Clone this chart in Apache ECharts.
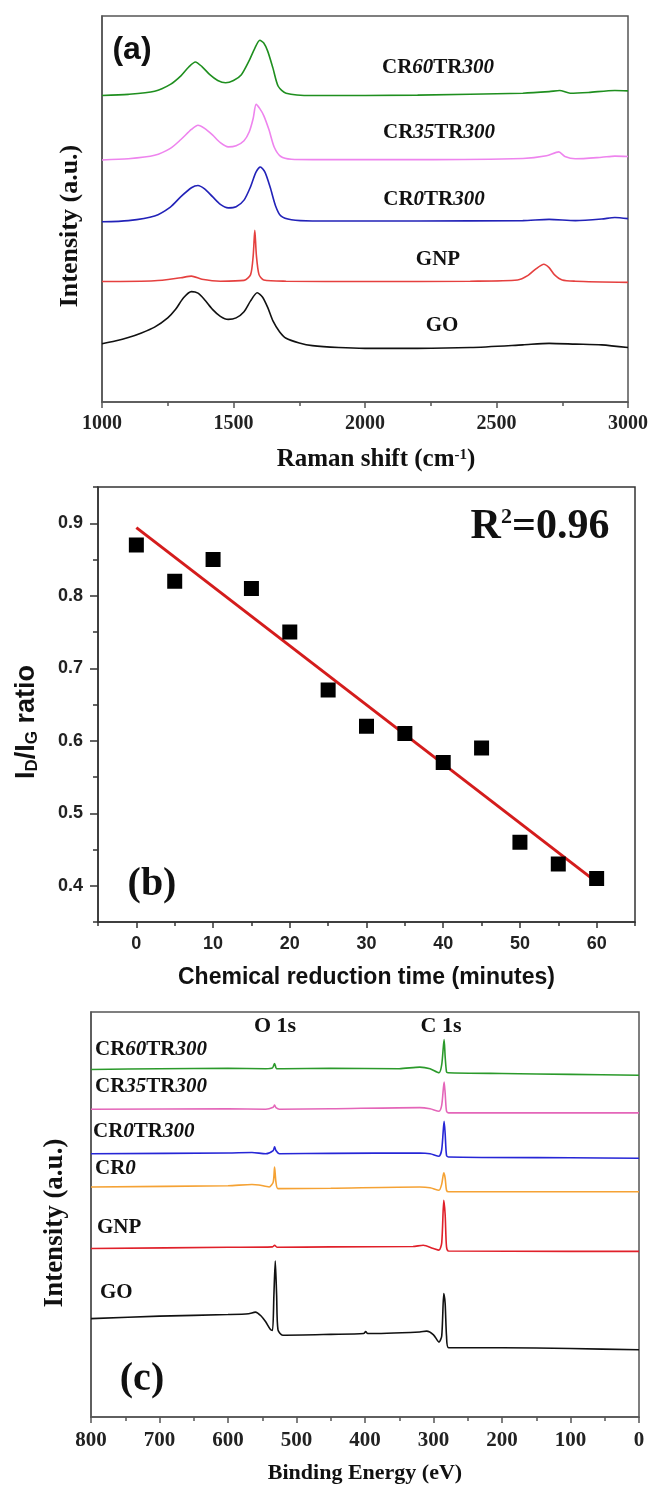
<!DOCTYPE html>
<html>
<head>
<meta charset="utf-8">
<script src="https://cdn.jsdelivr.net/npm/echarts@6/dist/echarts.min.js"></script>
<style>
html, body { margin: 0; padding: 0; background: #fff; }
#main { width: 651px; height: 1486px; }
</style>
</head>
<body>
<div id="main"></div>
<script>
// ---------- (a) Raman spectra: [shift cm-1, intensity a.u.] ----------
var ramanGO = [[1000,15.1],[1050,15.8],[1100,16.7],[1150,17.9],[1200,19.4],[1250,21.8],[1280,24],[1310,27],[1340,28.6],[1365,28.2],[1390,26.5],[1420,24],[1450,22.2],[1480,21.4],[1510,21.8],[1540,23.4],[1565,26.2],[1590,28.3],[1610,27.2],[1630,24.5],[1650,21],[1675,18.2],[1700,16.5],[1750,15.3],[1800,14.6],[1900,14.1],[2000,13.9],[2200,13.9],[2400,14.1],[2600,14.8],[2700,15.2],[2800,15],[2900,14.8],[3000,14.1]];
var ramanGNP = [[1000,31.2],[1200,31.4],[1300,32.2],[1340,32.6],[1380,31.8],[1450,31.3],[1540,31.5],[1565,33],[1575,38],[1581,44.5],[1587,38],[1597,33],[1615,31.6],[1700,31.3],[2000,31.2],[2400,31.3],[2580,31.6],[2620,32.8],[2650,34.5],[2680,35.7],[2700,34.8],[2720,33],[2750,31.6],[2800,31.3],[3000,31]];
var ramanCR0TR300 = [[1000,46.7],[1100,47],[1200,48.2],[1260,50.5],[1300,53.2],[1340,55.5],[1365,56.1],[1390,55.2],[1420,53.2],[1450,51.2],[1480,50.3],[1510,50.6],[1540,52.3],[1565,55.8],[1585,59.5],[1602,60.9],[1620,59.5],[1640,55.5],[1660,50.8],[1680,48.2],[1720,47.2],[1800,46.9],[2200,46.9],[2600,47],[2700,47.3],[2800,47],[2900,47.4],[2950,47.8],[3000,47.5]];
var ramanCR35TR300 = [[1000,62.7],[1100,63],[1200,63.9],[1260,65.7],[1300,68],[1340,70.6],[1365,71.7],[1390,70.9],[1420,69.2],[1450,67.2],[1480,66.1],[1510,66.4],[1540,67.7],[1560,70],[1575,73.5],[1586,77.1],[1600,76],[1615,74.2],[1635,70.5],[1655,66],[1680,63.6],[1720,62.9],[1800,62.8],[2200,62.8],[2600,63.1],[2690,63.8],[2737,64.8],[2760,63.6],[2800,63],[2900,63.4],[2950,63.7],[3000,63.6]];
var ramanCR60TR300 = [[1000,79.4],[1100,79.7],[1200,80.5],[1260,82.3],[1300,84.5],[1330,86.8],[1355,88.1],[1380,86.9],[1410,84.8],[1440,83.3],[1470,82.7],[1500,83.3],[1530,84.8],[1560,88.5],[1580,91.5],[1600,93.7],[1615,93],[1630,90.9],[1650,86.5],[1670,81.8],[1700,80],[1800,79.4],[2200,79.5],[2600,80],[2700,80.4],[2740,80.7],[2780,80],[2850,80.2],[2950,80.7],[3000,80.6]];

// ---------- (b) ID/IG ratio vs chemical reduction time ----------
var reductionTime = [0, 5, 10, 15, 20, 25, 30, 35, 40, 45, 50, 55, 60];
var idigRatio = [0.87, 0.82, 0.85, 0.81, 0.75, 0.67, 0.62, 0.61, 0.57, 0.59, 0.46, 0.43, 0.41];
var fitLine = [[0, 0.894], [60, 0.405]];
var bTicksX = [0, 10, 20, 30, 40, 50, 60];
var bMinorX = [-5, 5, 15, 25, 35, 45, 55, 65];
var bTicksY = [0.4, 0.5, 0.6, 0.7, 0.8, 0.9];
var bMinorY = [0.35, 0.45, 0.55, 0.65, 0.75, 0.85, 0.95];

// ---------- (c) XPS survey: [binding energy eV, intensity a.u.] ----------
var xpsGO = [[800,24.3],[700,24.9],[600,25.3],[570,25.5],[560,25.9],[552,25],[545,23.5],[538,21.6],[535,21.4],[533,30],[531,38.5],[529,30],[527,21.5],[520,20.2],[450,20.4],[402,20.6],[399,21.1],[396,20.6],[320,21],[310,21.2],[300,20.3],[292,18.5],[288,20],[285,30.5],[283,28],[281,20],[278,17.1],[200,17.1],[100,16.9],[0,16.6]];
var xpsGNP = [[800,41.6],[600,41.9],[535,42],[532,42.4],[528,41.9],[450,42],[330,42.1],[315,42.4],[300,41.6],[292,41.2],[288,43],[285,53.5],[283,50],[281,42],[278,41],[100,40.9],[0,40.9]];
var xpsCR0 = [[800,56.8],[600,57.1],[565,57.4],[555,57.3],[540,56.8],[534,58],[532,61.7],[530,58],[527,56.4],[450,56.5],[320,56.8],[305,56.6],[292,56],[288,57.5],[285,60.3],[283,59],[281,56],[278,55.6],[100,55.6],[0,55.6]];
var xpsCR0TR300 = [[800,65],[600,65.2],[565,65.3],[545,65],[534,65.8],[532,66.7],[530,65.8],[525,65],[450,65.1],[320,65.2],[305,65],[292,64.4],[288,66],[284.5,73],[283,70],[281,64.6],[278,64.2],[100,64],[0,63.9]];
var xpsCR35TR300 = [[800,76],[600,76.1],[545,76],[534,76.5],[532,77],[530,76.4],[525,76],[450,76.1],[320,76.4],[305,76.1],[292,75.5],[288,77],[284.5,82.7],[283,80],[281,75.5],[278,75.1],[100,75.1],[0,75.1]];
var xpsCR60TR300 = [[800,85.8],[700,86],[600,86.1],[545,86],[535,86.2],[532,87.3],[529,86],[520,86],[450,86.1],[350,86],[320,86.4],[305,86],[292,85],[288,87],[284.5,93.2],[283,89],[281,85.2],[279,85],[200,84.8],[100,84.6],[0,84.4]];

var SERIF = '"Liberation Serif", "Times New Roman", serif';
var SANS = '"Liberation Sans", Arial, sans-serif';

function spec(data, color, xi, yi) {
	return {
		type: 'line', data: data, xAxisIndex: xi, yAxisIndex: yi,
		showSymbol: false, smooth: 0.25, silent: true,
		lineStyle: { color: color, width: 1.6 }
	};
}

// sample label with italic numbers, e.g. CR{60}TR{300}
function sampleText(parts, x, y, size, align) {
	var txt = '';
	parts.forEach(function(p, i) {
		txt += '{' + (i % 2 ? 'i' : 'n') + '|' + p + '}';
	});
	return {
		type: 'text', x: x, y: y, silent: true,
		style: {
			text: txt, align: align || 'center', verticalAlign: 'middle', fill: '#111',
			rich: {
				n: { fontFamily: SERIF, fontWeight: 'bold', fontSize: size, fill: '#111' },
				i: { fontFamily: SERIF, fontWeight: 'bold', fontStyle: 'italic', fontSize: size, fill: '#111' }
			}
		}
	};
}

function plainText(text, x, y, font, rot) {
	return {
		type: 'text', x: x, y: y, rotation: rot || 0, silent: true,
		style: { text: text, font: font, fill: '#111', align: 'center', verticalAlign: 'middle' }
	};
}

function noComma(v) { return String(v); }

var myChart = echarts.init(document.getElementById('main'), null, { renderer: 'canvas' });

var option = {
	backgroundColor: '#fff',
	animation: false,
	grid: [
		{ left: 102, right: 20, top: 16, bottom: 1084, show: true, borderColor: '#555', borderWidth: 1.5 },
		{ left: 98, right: 16, top: 487, bottom: 564, show: true, borderColor: '#333', borderWidth: 1.5 },
		{ left: 91, right: 12, top: 1012, bottom: 69, show: true, borderColor: '#555', borderWidth: 1.5 }
	],
	xAxis: [
		{
			gridIndex: 0, type: 'value', min: 1000, max: 3000, interval: 500, position: 'bottom',
			axisLine: { onZero: false, lineStyle: { color: '#555', width: 1.5 } },
			axisTick: { show: true, inside: false, length: 6, lineStyle: { color: '#555', width: 1.5 } },
			minorTick: { show: true, splitNumber: 2, length: 4, lineStyle: { color: '#555', width: 1.5 } },
			splitLine: { show: false },
			axisLabel: { margin: 12, fontFamily: SERIF, fontWeight: 'bold', fontSize: 20, color: '#222', formatter: noComma }
		},
		{
			gridIndex: 1, type: 'value', min: -5, max: 65, position: 'bottom',
			axisLine: { onZero: false, lineStyle: { color: '#333', width: 1.5 } },
			axisTick: { show: true, inside: false, length: 6, customValues: bTicksX, lineStyle: { color: '#333', width: 1.5 } },
			splitLine: { show: false },
			axisLabel: { customValues: bTicksX, margin: 13, fontFamily: SANS, fontWeight: 'bold', fontSize: 18, color: '#222' },
			name: 'Chemical reduction time (minutes)', nameLocation: 'middle', nameGap: 44,
			nameTextStyle: { fontFamily: SANS, fontWeight: 'bold', fontSize: 23, color: '#111' }
		},
		{
			gridIndex: 1, type: 'value', min: -5, max: 65, position: 'bottom', offset: 0,
			axisLine: { show: false, onZero: false },
			axisTick: { show: true, inside: false, length: 4, customValues: bMinorX, lineStyle: { color: '#333', width: 1.5 } },
			splitLine: { show: false },
			axisLabel: { show: false }
		},
		{
			gridIndex: 2, type: 'value', min: 0, max: 800, interval: 100, inverse: true, position: 'bottom',
			axisLine: { onZero: false, lineStyle: { color: '#555', width: 1.5 } },
			axisTick: { show: true, inside: false, length: 6, lineStyle: { color: '#555', width: 1.5 } },
			minorTick: { show: true, splitNumber: 2, length: 4, lineStyle: { color: '#555', width: 1.5 } },
			splitLine: { show: false },
			axisLabel: { margin: 13, fontFamily: SERIF, fontWeight: 'bold', fontSize: 21, color: '#222' },
			name: 'Binding Energy (eV)', nameLocation: 'middle', nameGap: 45,
			nameTextStyle: { fontFamily: SERIF, fontWeight: 'bold', fontSize: 22, color: '#111' }
		}
	],
	yAxis: [
		{
			gridIndex: 0, type: 'value', min: 0, max: 100, position: 'left',
			axisLine: { show: true, onZero: false, lineStyle: { color: '#555', width: 1.5 } },
			axisTick: { show: false }, axisLabel: { show: false }, splitLine: { show: false }
		},
		{
			gridIndex: 1, type: 'value', min: 0.35, max: 0.95, position: 'left',
			axisLine: { show: true, onZero: false, lineStyle: { color: '#333', width: 1.5 } },
			axisTick: { show: true, inside: false, length: 8, customValues: bTicksY, lineStyle: { color: '#333', width: 1.5 } },
			splitLine: { show: false },
			axisLabel: {
				customValues: bTicksY, margin: 15, fontFamily: SANS, fontWeight: 'bold', fontSize: 18, color: '#222',
				formatter: function(v) { return v.toFixed(1); }
			}
		},
		{
			gridIndex: 1, type: 'value', min: 0.35, max: 0.95, position: 'left', offset: 0,
			axisLine: { show: false, onZero: false },
			axisTick: { show: true, inside: false, length: 5, customValues: bMinorY, lineStyle: { color: '#333', width: 1.5 } },
			splitLine: { show: false },
			axisLabel: { show: false }
		},
		{
			gridIndex: 2, type: 'value', min: 0, max: 100, position: 'left',
			axisLine: { show: true, onZero: false, lineStyle: { color: '#555', width: 1.5 } },
			axisTick: { show: false }, axisLabel: { show: false }, splitLine: { show: false }
		}
	],
	series: [
		spec(ramanGO, '#111111', 0, 0),
		spec(ramanGNP, '#e5403f', 0, 0),
		spec(ramanCR0TR300, '#2222b8', 0, 0),
		spec(ramanCR35TR300, '#ee84ee', 0, 0),
		spec(ramanCR60TR300, '#1f8f1f', 0, 0),
		{
			type: 'line', xAxisIndex: 1, yAxisIndex: 1, data: fitLine,
			showSymbol: false, silent: true, z: 2,
			lineStyle: { color: '#d41c1c', width: 3 }
		},
		{
			type: 'scatter', xAxisIndex: 1, yAxisIndex: 1, z: 3,
			data: reductionTime.map(function(t, i) { return [t, idigRatio[i]]; }),
			symbol: 'rect', symbolSize: 15, itemStyle: { color: '#000', opacity: 1 }
		},
		spec(xpsGO, '#111111', 3, 3),
		spec(xpsGNP, '#e0202a', 3, 3),
		spec(xpsCR0, '#f5a234', 3, 3),
		spec(xpsCR0TR300, '#2626d6', 3, 3),
		spec(xpsCR35TR300, '#e466b9', 3, 3),
		spec(xpsCR60TR300, '#2b9a2b', 3, 3)
	],
	graphic: [
		// axis titles
		plainText('Intensity (a.u.)', 70, 226, 'bold 26px ' + SERIF, Math.PI / 2),
		{
			type: 'text', x: 376, y: 460, silent: true,
			style: {
				text: '{a|Raman shift (cm}{s|-1}{a|)}', align: 'center', verticalAlign: 'middle',
				rich: {
					a: { fontFamily: SERIF, fontWeight: 'bold', fontSize: 25, fill: '#111' },
					s: { fontFamily: SERIF, fontWeight: 'bold', fontSize: 15, fill: '#111', verticalAlign: 'top' }
				}
			}
		},
		{
			type: 'text', x: 27, y: 722, rotation: Math.PI / 2, silent: true,
			style: {
				text: '{a|I}{s|D}{a|/I}{s|G}{a| ratio}', align: 'center', verticalAlign: 'middle',
				rich: {
					a: { fontFamily: SANS, fontWeight: 'bold', fontSize: 27, fill: '#111' },
					s: { fontFamily: SANS, fontWeight: 'bold', fontSize: 17, fill: '#111', verticalAlign: 'bottom' }
				}
			}
		},
		plainText('Intensity (a.u.)', 55, 1223, 'bold 27px ' + SERIF, Math.PI / 2),
		// panel annotations
		plainText('(a)', 132, 50, 'bold 32px ' + SANS),
		sampleText(['CR', '60', 'TR', '300'], 438, 68, 21),
		sampleText(['CR', '35', 'TR', '300'], 439, 133, 21),
		sampleText(['CR', '0', 'TR', '300'], 434, 200, 21),
		sampleText(['GNP'], 438, 260, 21),
		sampleText(['GO'], 442, 326, 21),
		{
			type: 'text', x: 540, y: 527, silent: true,
			style: {
				text: '{a|R}{s|2}{a|=0.96}', align: 'center', verticalAlign: 'middle',
				rich: {
					a: { fontFamily: SERIF, fontWeight: 'bold', fontSize: 42, fill: '#111' },
					s: { fontFamily: SERIF, fontWeight: 'bold', fontSize: 22, fill: '#111', verticalAlign: 'top' }
				}
			}
		},
		plainText('(b)', 152, 885, 'bold 40px ' + SERIF),
		plainText('O 1s', 275, 1026, 'bold 22px ' + SERIF),
		plainText('C 1s', 441, 1026, 'bold 22px ' + SERIF),
		sampleText(['CR', '60', 'TR', '300'], 95, 1050, 21, 'left'),
		sampleText(['CR', '35', 'TR', '300'], 95, 1087, 21, 'left'),
		sampleText(['CR', '0', 'TR', '300'], 93, 1132, 21, 'left'),
		sampleText(['CR', '0'], 95, 1169, 21, 'left'),
		sampleText(['GNP'], 97, 1228, 21, 'left'),
		sampleText(['GO'], 100, 1293, 21, 'left'),
		plainText('(c)', 142, 1380, 'bold 40px ' + SERIF)
	]
};

myChart.setOption(option);
</script>
</body>
</html>
